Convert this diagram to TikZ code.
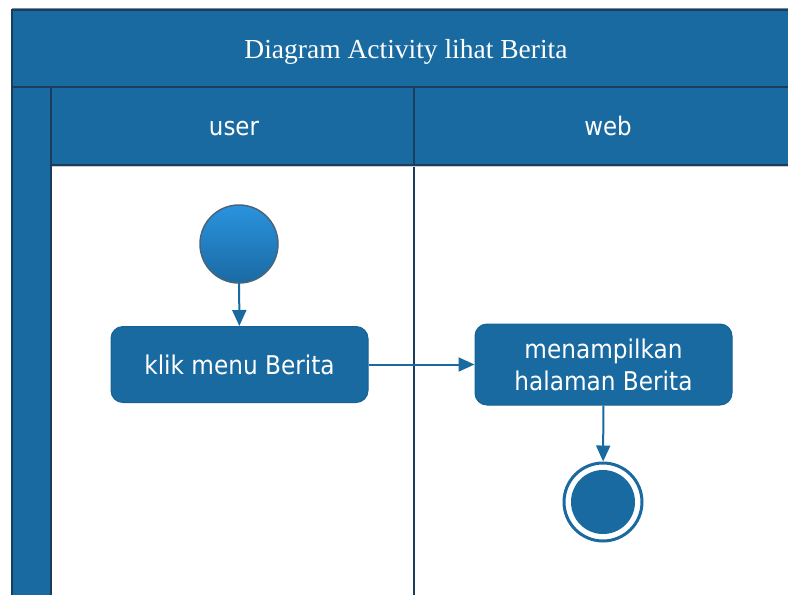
\documentclass[tikz,border=0pt]{standalone}
\usepackage{fontspec}
\setmainfont{Liberation Serif}
\newfontfamily\arialf{DejaVu Sans Condensed}
\usetikzlibrary{arrows.meta,shadings}
\definecolor{laneblue}{HTML}{196AA0}
\definecolor{edgedark}{HTML}{1B3D5C}
\definecolor{circtop}{HTML}{2A93DE}
\definecolor{circbot}{HTML}{1A6AA3}
\tikzset{
  band/.style={fill=laneblue, draw=edgedark, line width=1.5pt},
  lanetext/.style={text=white, anchor=base, inner sep=0pt, font=\arialf\fontsize{25.5}{30}\selectfont},
  action/.style={fill=laneblue, draw=laneblue!92!black, line width=1pt, rounded corners=12pt,
    minimum width=257pt, minimum height=76pt, text=white, align=center,
    font=\arialf\fontsize{25.8}{32}\selectfont},
  flow/.style={draw=laneblue, line width=2pt, -{Triangle[width=14pt,length=16pt]}},
}
\begin{document}
\begin{tikzpicture}[x=1pt,y=-1pt]
\useasboundingbox (0,0) rectangle (788,595);
\begin{scope}
\clip (0,0) rectangle (788,595);
% outer frame lines
\draw[edgedark!60, line width=1pt] (12,8.5) -- (802,8.5);
% title band
\path[band] (12,10) rectangle (802,87);
\node[text=white, anchor=base, inner sep=0pt, font=\fontsize{27.5}{32}\selectfont] (title) at (406,58) {Diagram Activity lihat Berita};
% left vertical band
\path[band] (12,87) rectangle (51,600);
% lane headers
\path[band] (51,87) rectangle (414,165);
\path[band] (414,87) rectangle (802,165);
\node[lanetext] (user) at (234,135) {user};
\node[lanetext] (web) at (608,135) {web};
% lane body lines
\draw[edgedark, line width=1.5pt] (414,165) -- (414,600);
\draw[gray!40, line width=1pt] (52,166.5) -- (802,166.5);
\end{scope}
% start node
\shade[top color=circtop, bottom color=circbot, draw=edgedark!80, line width=1.5pt] (239,244) circle (39);
\node[circle, minimum size=78pt, inner sep=0pt] (start) at (239,244) {};
% actions
\node[action] (a1) at (239.5,364.5) {klik menu Berita};
\node[action, minimum height=81pt] (a2) at (603.5,364.5) {menampilkan\\halaman Berita};
% end node
\node[circle, draw=laneblue, line width=3pt, fill=white, minimum size=78pt, inner sep=0pt] (end) at (603,502) {};
\fill[laneblue] (end.center) circle (32);
% flows
\draw[flow] (start) -- (a1);
\draw[flow] (a1) -- (a2);
\draw[flow] (a2) -- (end);
\end{tikzpicture}
\end{document}
